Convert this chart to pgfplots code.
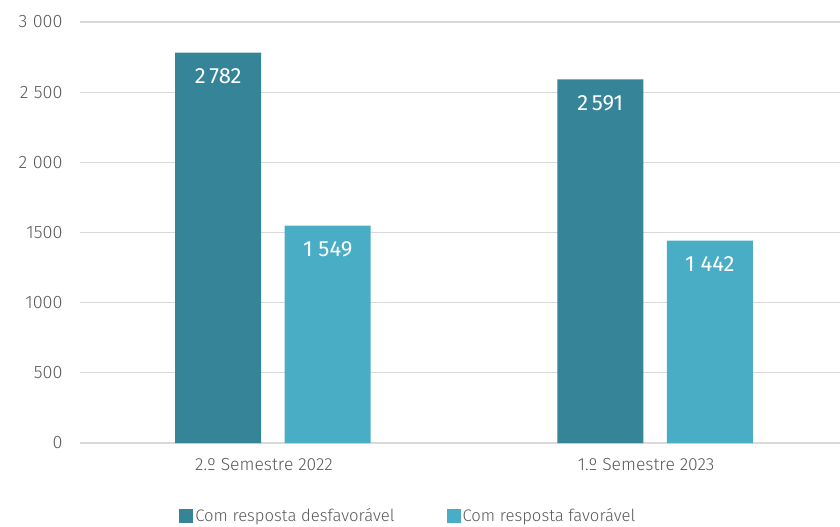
\documentclass[border=0pt]{standalone}
\usepackage{pgfplots}
\pgfplotsset{compat=1.18}
\usepackage{fontspec}
\setmainfont{Fira Sans}[UprightFont=* Light]
\newfontfamily\regfont{Fira Sans}
\definecolor{darkteal}{HTML}{358497}
\definecolor{lightteal}{HTML}{49AEC5}
\definecolor{gridgray}{HTML}{D9D9D9}
\definecolor{txtgray}{HTML}{595959}
\begin{document}
\begin{tikzpicture}
\useasboundingbox (-80bp,-84bp) rectangle (760bp,443bp);
\begin{axis}[
  scale only axis,
  width=760bp, height=421bp,
  xmin=-0.505, xmax=1.484,
  ymin=0, ymax=3000,
  axis line style={draw=none},
  ytick={0,500,1000,1500,2000,2500,3000},
  yticklabels={0,500,1000,1500,2\kern5.5bp000,2\kern5.5bp500,3\kern5.5bp000},
  xtick={0,1},
  xticklabels={2.º Semestre 2022,1.º Semestre 2023},
  major tick length=0pt,
  ymajorgrids,
  grid style={gridgray, line width=1.2pt},
  tick label style={font=\fontsize{17.5bp}{20bp}\selectfont, text=txtgray},
  yticklabel style={font=\fontsize{18bp}{20bp}\selectfont, xshift=-14bp},
  /pgf/number format/assume math mode=true,
  xticklabel style={yshift=-12bp, xshift=-9bp},
  legend style={at={(0.432,-84bp)}, anchor=south, draw=none, fill=none,
    font=\fontsize{16.7bp}{19bp}\selectfont, text=txtgray,
    legend columns=2, /tikz/every even column/.append style={column sep=50bp}},
  legend image code/.code={\fill[#1] (0cm,-7bp) rectangle (14bp,7bp);},
  nodes near coords={\pgfplotspointmeta},
  point meta=explicit symbolic,
  every node near coord/.append style={anchor=north, inner sep=0pt, yshift=-16bp, text=white, font=\regfont\fontsize{22bp}{24bp}\selectfont},
  clip=false,
]
\addplot[ybar, bar width=0.225, bar shift=0, fill=darkteal, draw=none]
  coordinates {(-0.1433,2782)[2\,782] (0.8567,2591)[2\,591]};
\addlegendentry{Com resposta desfavorável}
\addplot[ybar, bar width=0.225, bar shift=0, fill=lightteal, draw=none]
  coordinates {(0.1433,1549)[1 549] (1.1433,1442)[1 442]};
\addlegendentry{Com resposta favorável}
\end{axis}
\end{tikzpicture}
\end{document}
